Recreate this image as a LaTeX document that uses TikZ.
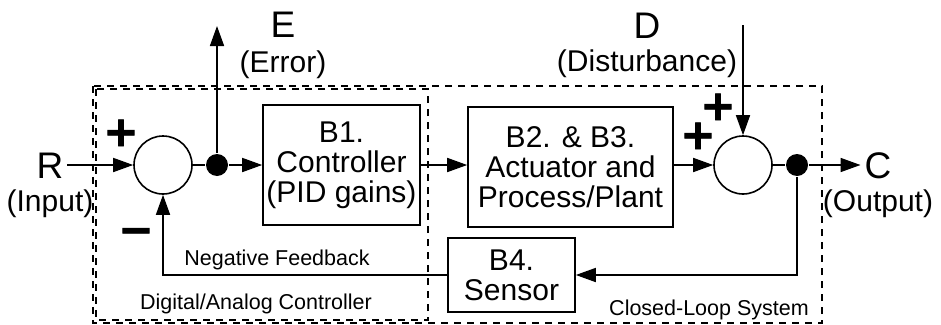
\documentclass[tikz,border=0pt]{standalone}
\usepackage{fontspec}
\setmainfont{Liberation Sans}
\newfontfamily\signfont[FakeBold=2]{DejaVu Sans Bold}
\usetikzlibrary{arrows.meta}

\newcommand{\bigtext}{\fontsize{37}{40}\selectfont}
\newcommand{\boxtext}{\fontsize{30}{30}\selectfont}
\newcommand{\smalltext}{\fontsize{21.5}{24}\selectfont}

\begin{document}
\begin{tikzpicture}[x=1pt,y=-1pt,line width=1.6pt,
    >={Triangle[length=20pt,width=14pt]},
    block/.style={rectangle,draw,font=\boxtext,align=center,inner sep=0pt},
    sumnode/.style={circle,draw,minimum size=58pt,inner sep=0pt},
    joint/.style={circle,fill,minimum size=22pt,inner sep=0pt},
    zone/.style={draw,dash pattern=on 7pt off 6pt,line width=1.3pt},
    sign/.style={font=\signfont\fontsize{42}{42}\selectfont,inner sep=0pt,
      text height=24pt,text depth=0pt}]

    \useasboundingbox (0,0) rectangle (941,324);

    % dashed regions
    \draw[zone] (93,86) rectangle (822,323);
    \draw[zone] (96,89) rectangle (428,320);

    \node(sum-1)[sumnode] at (163,165) {};
    \node(dot-1)[joint] at (217,165) {};
    \node(b1)[block,minimum width=157pt,minimum height=120pt] at (341.5,165) {B1.\\Controller\\(PID gains)};
    \node(b23)[block,minimum width=205pt,minimum height=120pt] at (570.5,167) {B2. \& B3.\\Actuator and\\Process/Plant};
    \node(sum-2)[sumnode] at (743,165) {};
    \node(dot-2)[joint] at (797,165) {};
    \node(b4)[block,minimum width=127pt,minimum height=74pt] at (511.5,275) {B4.\\Sensor};

    \node(R)[font=\bigtext] at (50,166) {R};
    \node(R-sub)[font=\boxtext,below of=R,node distance=38pt] {(Input)};
    \node(C)[font=\bigtext] at (878,166) {C};
    \node(C-sub)[font=\boxtext,below of=C,node distance=38pt] {(Output)};
    \node(E)[font=\bigtext] at (283,25) {E};
    \node(E-sub)[font=\boxtext,below of=E,node distance=40pt] {(Error)};
    \node(D)[font=\bigtext] at (647,26) {D};
    \node(D-sub)[font=\boxtext,below of=D,node distance=38pt] {(Disturbance)};

    \node(plus-1)[sign] at (121,134) {+};
    \node(minus-1)[sign] at (136,232) {−};
    \node(plus-2)[sign] at (718,108) {+};
    \node(plus-3)[sign] at (698,137) {+};

    \node(fb-text)[font=\smalltext] at (277,260) {Negative Feedback};
    \node(ctrl-text)[font=\smalltext] at (256,304) {Digital/Analog Controller};
    \node(loop-text)[font=\smalltext] at (709,310) {Closed-Loop System};

    \coordinate(E-tip) at (217,26);
    \coordinate(D-start) at (743,25);

    \draw[->] (R.east |- sum-1) -- (sum-1);
    \draw (sum-1) -- (dot-1);
    \draw[->] (dot-1) -- (b1);
    \draw[->] (dot-1) -- (E-tip);
    \draw[->] (b1) -- (b1 -| b23.west);
    \draw[->] (b23.east |- sum-2) -- (sum-2);
    \draw[->] (D-start) -- (sum-2);
    \draw (sum-2) -- (dot-2);
    \draw[->] (dot-2) -- (C.west |- dot-2);
    \draw[->] (dot-2) |- (b4);
    \draw[->] (b4) -| (sum-1);
  \end{tikzpicture}
\end{document}
